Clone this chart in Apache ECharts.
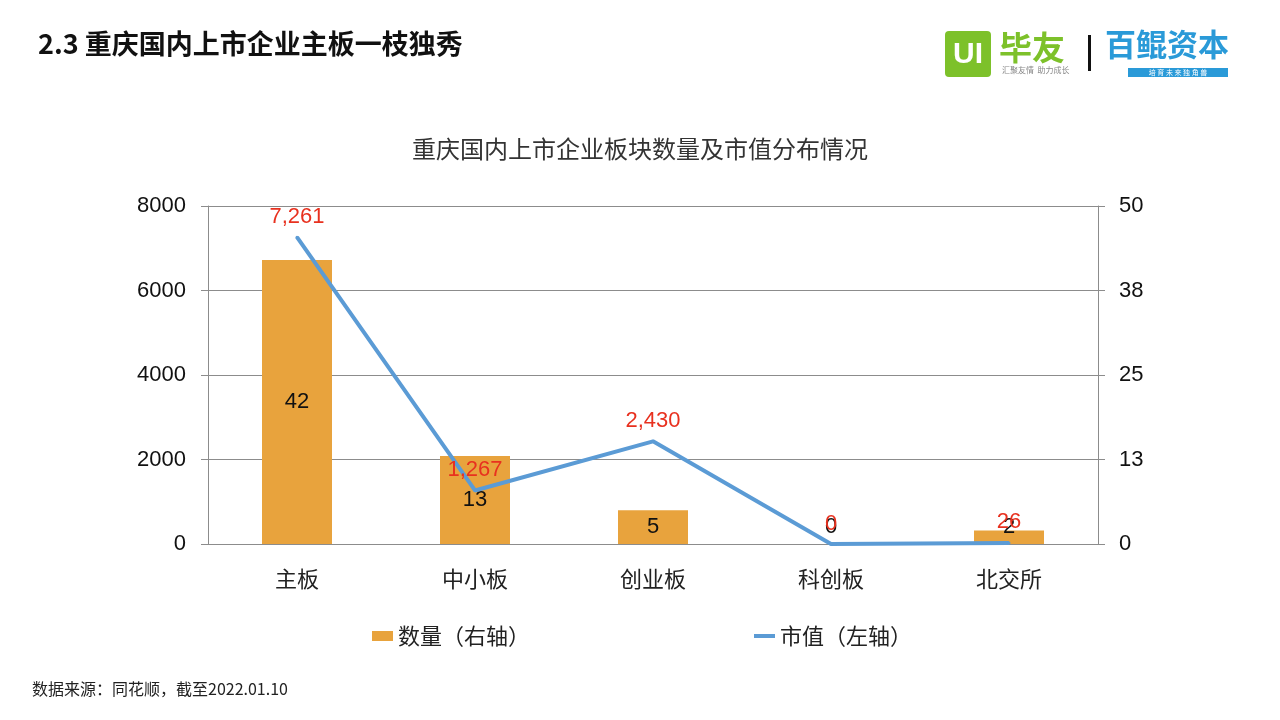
<!DOCTYPE html>
<html>
<head>
<meta charset="utf-8">
<title>重庆国内上市企业板块数量及市值分布情况</title>
<script src="https://cdn.jsdelivr.net/npm/echarts@6/dist/echarts.min.js"></script>
<style>
  html, body { margin: 0; padding: 0; background: #fff; }
  #chart { width: 1280px; height: 720px; }
</style>
</head>
<body>
<div id="chart"></div>
<script>
// 板块
const categories = ['主板', '中小板', '创业板', '科创板', '北交所']
// 数量（右轴）
const counts = [42, 13, 5, 0, 2]
// 市值（左轴）
const marketValues = [7261, 1267, 2430, 0, 26]

const FONT = '"Liberation Sans", "Noto Sans CJK SC", sans-serif'
const CJK = '"Noto Sans CJK SC", "Liberation Sans", sans-serif'
const axisGray = '#8c8c8c'

const fmtThousands = (v) => String(v).replace(/\B(?=(\d{3})+(?!\d))/g, ',')

const myChart = echarts.init(document.getElementById('chart'))

const legendText = { fontFamily: CJK, fontSize: 22, color: '#222' }

const option = {
  backgroundColor: '#fff',
  animation: false,
  title: {
    text: '重庆国内上市企业板块数量及市值分布情况',
    left: 'center',
    top: 132,
    textStyle: { fontFamily: CJK, fontSize: 24, fontWeight: 'normal', color: '#333' }
  },
  legend: [
    {
      left: 367,
      top: 620,
      itemWidth: 21,
      itemHeight: 10,
      textStyle: legendText,
      data: [{ name: '数量（右轴）', icon: 'rect' }]
    },
    {
      left: 749,
      top: 620,
      itemWidth: 21,
      itemHeight: 4,
      textStyle: legendText,
      data: [{ name: '市值（左轴）', icon: 'rect', itemStyle: { color: '#5b9bd5' } }]
    }
  ],
  grid: { left: 208, right: 182, top: 206, bottom: 176 },
  xAxis: {
    type: 'category',
    data: categories,
    axisLine: { lineStyle: { color: axisGray } },
    axisTick: { length: 6, lineStyle: { color: axisGray } },
    axisLabel: { fontFamily: CJK, fontSize: 22, color: '#222', margin: 24 }
  },
  yAxis: [
    {
      type: 'value',
      min: 0,
      max: 8000,
      interval: 2000,
      axisLine: { show: true, lineStyle: { color: axisGray } },
      axisTick: { show: true, length: 7, lineStyle: { color: axisGray } },
      axisLabel: {
        fontFamily: FONT, fontSize: 22, color: '#111', margin: 22,
        formatter: (v) => String(v)
      },
      splitLine: { lineStyle: { color: axisGray } }
    },
    {
      type: 'value',
      min: 0,
      max: 50,
      interval: 12.5,
      axisLine: { show: true, lineStyle: { color: axisGray } },
      axisTick: { show: true, length: 7, lineStyle: { color: axisGray } },
      axisLabel: {
        fontFamily: FONT, fontSize: 22, color: '#111', margin: 21,
        formatter: (v) => Math.round(v)
      },
      splitLine: { show: false }
    }
  ],
  series: [
    {
      name: '数量（右轴）',
      type: 'bar',
      yAxisIndex: 1,
      data: counts,
      barWidth: 70,
      itemStyle: { color: '#e8a33d' },
      label: {
        show: true,
        position: 'inside',
        fontFamily: FONT,
        fontSize: 22,
        color: '#111'
      },
      // 很矮的柱子，标签往上抬一点
      labelLayout: (p) => {
        const cy = p.rect.y + p.rect.height / 2
        const limit = p.rect.y + p.rect.height - 17
        return { dy: Math.min(0, limit - cy) }
      }
    },
    {
      name: '市值（左轴）',
      type: 'line',
      yAxisIndex: 0,
      data: marketValues,
      symbol: 'circle',
      symbolSize: 3,
      itemStyle: { color: '#5b9bd5' },
      lineStyle: { width: 4, color: '#5b9bd5' },
      z: 5,
      label: {
        show: true,
        position: 'top',
        distance: 8,
        fontFamily: FONT,
        fontSize: 22,
        color: '#e8311f',
        formatter: (p) => fmtThousands(p.value)
      }
    }
  ],
  graphic: [
    {
      type: 'text',
      left: 38,
      top: 30,
      style: {
        text: '2.3 重庆国内上市企业主板一枝独秀',
        fontFamily: CJK,
        fontSize: 27,
        fontWeight: 'bold',
        fill: '#111'
      }
    },
    {
      type: 'text',
      left: 32,
      top: 681,
      style: {
        text: '数据来源：同花顺，截至2022.01.10',
        fontFamily: CJK,
        fontSize: 16,
        fill: '#222'
      }
    },
    // 毕友 logo
    {
      type: 'rect',
      shape: { x: 945, y: 31, width: 46, height: 46, r: 4 },
      style: { fill: '#7dc12a' }
    },
    {
      type: 'text',
      x: 968, y: 55,
      style: {
        text: 'UI', fontFamily: FONT, fontSize: 30, fontWeight: 'bold',
        fill: '#fff', align: 'center', verticalAlign: 'middle'
      }
    },
    {
      type: 'text',
      x: 999, y: 31,
      style: { text: '毕友', fontFamily: CJK, fontSize: 33, fontWeight: 'bold', fill: '#7dc12a' }
    },
    {
      type: 'text',
      x: 1002, y: 66,
      style: { text: '汇聚友情  助力成长', fontFamily: CJK, fontSize: 8, fill: '#888' }
    },
    {
      type: 'rect',
      shape: { x: 1088, y: 35, width: 3, height: 36 },
      style: { fill: '#111' }
    },
    // 百鲲资本 logo
    {
      type: 'text',
      x: 1105, y: 29,
      style: { text: '百鲲资本', fontFamily: CJK, fontSize: 31, fontWeight: 'bold', fill: '#2a9ad8' }
    },
    {
      type: 'rect',
      shape: { x: 1128, y: 68, width: 100, height: 9 },
      style: { fill: '#2a9ad8' }
    },
    {
      type: 'text',
      x: 1178, y: 72.5,
      style: {
        text: '培 育 未 来 独 角 兽', fontFamily: CJK, fontSize: 7, fill: '#fff',
        align: 'center', verticalAlign: 'middle'
      }
    }
  ]
}

myChart.setOption(option)
window.addEventListener('resize', () => myChart.resize())
</script>
</body>
</html>
